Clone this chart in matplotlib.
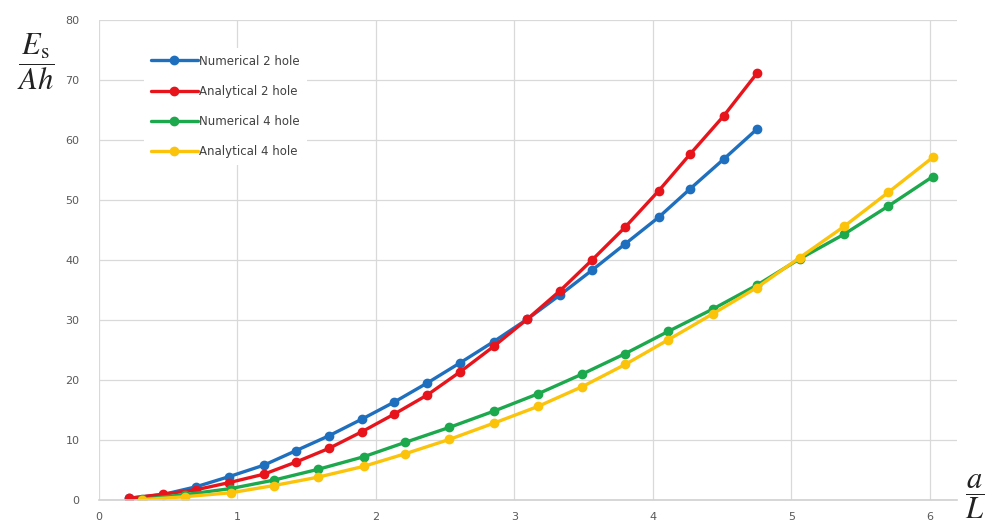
import matplotlib
matplotlib.use("Agg")
from matplotlib import pyplot as plt

# a/L values
x_2hole = [0.22, 0.46, 0.70, 0.94, 1.19, 1.42, 1.66, 1.90, 2.13, 2.37,
           2.61, 2.85, 3.09, 3.33, 3.56, 3.80, 4.04, 4.27, 4.51, 4.75]
num_2hole = [0.3, 0.9, 2.2, 3.9, 5.8, 8.2, 10.7, 13.5, 16.3, 19.5,
             22.9, 26.4, 30.1, 34.2, 38.3, 42.7, 47.1, 51.9, 56.8, 61.8]
ana_2hole = [0.3, 0.95, 1.7, 2.9, 4.3, 6.3, 8.6, 11.4, 14.3, 17.5,
             21.4, 25.6, 30.1, 34.9, 40.0, 45.5, 51.5, 57.7, 64.0, 71.1]

x_4hole = [0.31, 0.62, 0.95, 1.26, 1.58, 1.91, 2.21, 2.53, 2.85, 3.17,
           3.49, 3.80, 4.11, 4.43, 4.75, 5.06, 5.38, 5.70, 6.02]
num_4hole = [0.1, 0.9, 1.9, 3.3, 5.1, 7.2, 9.6, 12.1, 14.8, 17.7,
             21.0, 24.4, 28.1, 31.8, 35.8, 40.2, 44.3, 49.0, 53.9]
ana_4hole = [0.05, 0.55, 1.2, 2.4, 3.8, 5.6, 7.7, 10.1, 12.8, 15.6,
             18.9, 22.6, 26.7, 31.0, 35.4, 40.4, 45.6, 51.3, 57.1]

series = [
    (x_2hole, num_2hole, "Numerical 2 hole", "#1f6fbf"),
    (x_2hole, ana_2hole, "Analytical 2 hole", "#e8141c"),
    (x_4hole, num_4hole, "Numerical 4 hole", "#1ca84c"),
    (x_4hole, ana_4hole, "Analytical 4 hole", "#fcc30b"),
]

plt.rcParams["mathtext.fontset"] = "stix"

fig = plt.figure(figsize=(9.91, 5.24), dpi=100)
ax = fig.add_axes([99 / 991, 24 / 524, 858 / 991, 480 / 524])

for xs, ys, name, c in series:
    ax.plot(xs, ys, color=c, lw=2.4, marker="o", ms=6, label=name,
            solid_capstyle="round")

ax.set_xlim(0, 6.195)
ax.set_ylim(0, 80)
ax.set_xticks(range(0, 7))
ax.set_yticks(range(0, 81, 10))
ax.grid(True, color="#d9d9d9", lw=0.9)
ax.set_axisbelow(True)
for s in ["top", "right", "left"]:
    ax.spines[s].set_visible(False)
ax.spines["bottom"].set_color("#d0d0d0")
ax.spines["bottom"].set_linewidth(1.2)
ax.tick_params(length=0, labelsize=8, colors="#595959")
ax.tick_params(axis="x", pad=9)
ax.tick_params(axis="y", pad=14)

leg = ax.legend(loc="upper left", bbox_to_anchor=(0.045, 0.955), frameon=True,
                fontsize=8.5, handlelength=4.0, handletextpad=0.1,
                labelspacing=1.45, borderpad=0.6)
leg.get_frame().set_facecolor("white")
leg.get_frame().set_edgecolor("none")
leg.get_frame().set_alpha(1)
for t in leg.get_texts():
    t.set_color("#404040")

fig.text(36 / 991, 1 - 62 / 524, r"$\dfrac{E_\mathrm{s}}{Ah}$", fontsize=22,
         ha="center", va="center", color="#222222")
fig.text(975 / 991, 1 - 497 / 524, r"$\dfrac{a}{L}$", fontsize=22,
         ha="center", va="center", color="#222222")

fig.savefig("out.png", dpi=100)
